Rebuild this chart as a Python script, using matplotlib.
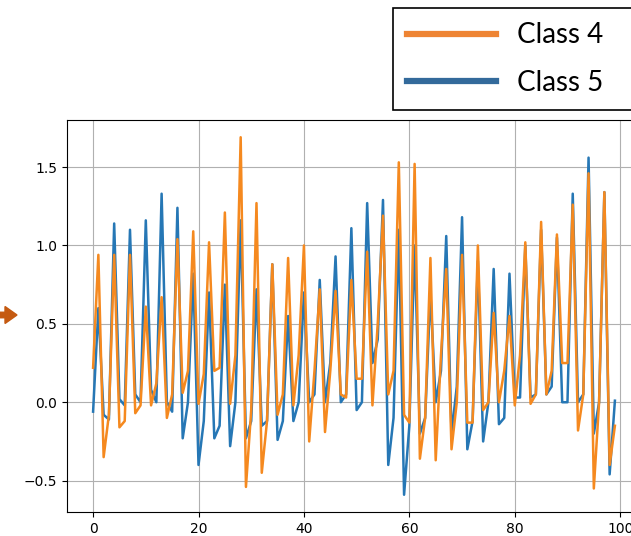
import numpy as np
import matplotlib
matplotlib.use('Agg')
import matplotlib.pyplot as plt
from matplotlib.lines import Line2D
from matplotlib.patches import FancyArrow

# values (100 samples per class)
class4 = [0.22, 0.94, -0.35, -0.08, 0.94, -0.16, -0.12, 0.94, -0.07, -0.02,
          0.61, -0.02, 0.12, 0.67, -0.10, 0.05, 1.04, 0.06, 0.20, 1.09,
          -0.01, 0.18, 1.02, 0.20, 0.22, 1.21, -0.01, 0.30, 1.69, -0.54,
          -0.05, 1.27, -0.45, -0.12, 0.88, -0.08, 0.05, 0.92, -0.02, 0.30,
          1.00, -0.25, 0.20, 0.72, -0.19, 0.20, 0.71, 0.05, 0.03, 0.78,
          0.15, 0.15, 0.96, -0.02, 0.50, 1.19, 0.05, 0.20, 1.53, -0.08,
          -0.13, 1.52, -0.36, -0.10, 0.92, -0.37, 0.30, 0.85, -0.30, 0.00,
          0.94, -0.13, -0.13, 1.00, -0.05, 0.00, 0.57, 0.00, 0.20, 0.55,
          -0.02, 0.30, 1.02, -0.01, 0.05, 1.15, 0.05, 0.20, 1.07, 0.25,
          0.25, 1.26, -0.18, 0.05, 1.46, -0.55, 0.00, 1.34, -0.40, -0.15]

class5 = [-0.06, 0.60, -0.08, -0.11, 1.14, 0.02, -0.02, 1.10, 0.05, 0.00,
          1.16, 0.08, 0.00, 1.33, 0.00, -0.06, 1.24, -0.23, 0.00, 0.82,
          -0.40, -0.12, 0.70, -0.23, -0.15, 0.75, -0.28, 0.00, 1.16, -0.23,
          -0.12, 0.72, -0.15, -0.12, 0.88, -0.24, -0.12, 0.55, -0.12, 0.00,
          0.70, 0.00, 0.05, 0.78, 0.00, 0.25, 0.93, 0.00, 0.05, 1.11,
          -0.05, 0.00, 1.27, 0.25, 0.40, 1.29, -0.40, -0.10, 1.10, -0.59,
          -0.15, 1.00, -0.20, -0.10, 0.70, 0.00, 0.20, 1.06, -0.20, 0.10,
          1.18, -0.30, -0.12, 0.90, -0.25, 0.00, 0.85, -0.14, -0.10, 0.82,
          0.03, 0.03, 1.00, 0.03, 0.05, 1.10, 0.05, 0.10, 1.05, 0.00,
          0.00, 1.33, 0.00, 0.05, 1.56, -0.20, 0.00, 1.34, -0.46, 0.01]

labels = ['Class 4', 'Class 5']

x = np.arange(len(class4))

fig = plt.figure(figsize=(6.31, 5.36), dpi=100)
ax = fig.add_axes([67/631, 24/536, 574/631, 392/536])

ax.plot(x, class5, color='#2677b5', lw=1.8)
ax.plot(x, class4, color='#f5891f', lw=1.8)

ax.set_xlim(-4.95, 103.95)
ax.set_ylim(-0.70, 1.80)
ax.set_xticks([0, 20, 40, 60, 80, 100])
ax.set_yticks([-0.5, 0.0, 0.5, 1.0, 1.5])
ax.grid(True, color='#b0b0b0', lw=0.8)

# legend box pasted on top right, running past the right edge
handles = [Line2D([], [], color='#ee8433', lw=4.5),
           Line2D([], [], color='#336a9b', lw=4.5)]
leg = fig.legend(handles, labels, loc='upper left', mode='expand',
                 bbox_to_anchor=(393/631, 0.5, 250/631, 0.5 - 8/536),
                 borderaxespad=0,
                 prop={'family': ['Lato', 'DejaVu Sans'], 'size': 20},
                 handlelength=3.2, handletextpad=0.75, fancybox=False,
                 framealpha=1, edgecolor='black', labelspacing=0.77,
                 borderpad=0.52)
leg.get_frame().set_linewidth(1.2)

# arrow on the left edge
fig.patches.append(FancyArrow(-0.03, 2.21, 0.20, 0, width=0.055,
                              head_width=0.17, head_length=0.12,
                              length_includes_head=True, color='#c55a11',
                              transform=fig.dpi_scale_trans, figure=fig))

fig.savefig('out.png', dpi=100)
